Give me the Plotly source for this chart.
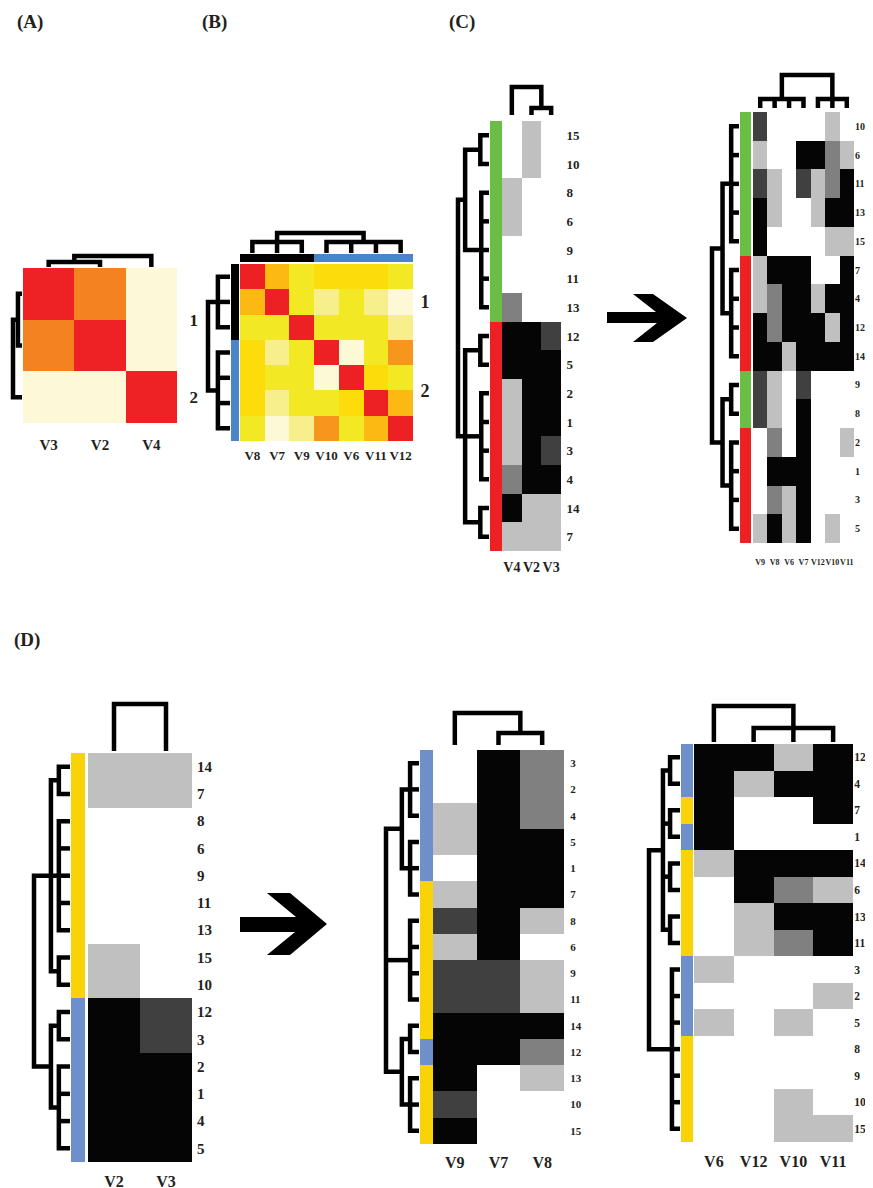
import plotly.graph_objects as go

# ======================= DATA =======================
# Binary-profile levels per sample (0 = white ... 4 = black), samples 1..15
SAMPLES = [str(i) for i in range(1, 16)]
V2 = [4, 4, 4, 4, 4, 0, 1, 0, 0, 1, 0, 4, 0, 1, 1]
V3 = [4, 4, 3, 4, 4, 0, 1, 0, 0, 0, 0, 3, 0, 1, 0]
V4 = [1, 1, 1, 2, 4, 1, 1, 1, 0, 0, 0, 4, 2, 4, 0]
V6 = [4, 0, 1, 4, 1, 0, 4, 0, 0, 0, 0, 4, 0, 1, 0]
V7 = [4, 4, 4, 4, 4, 4, 4, 4, 3, 0, 3, 4, 0, 4, 0]
V8 = [4, 2, 2, 2, 4, 0, 4, 1, 1, 0, 1, 2, 1, 4, 0]
V9 = [0, 0, 0, 1, 1, 1, 1, 3, 3, 3, 3, 4, 4, 4, 4]
V10 = [0, 0, 0, 4, 1, 2, 0, 0, 0, 1, 2, 1, 4, 4, 1]
V11 = [0, 1, 0, 4, 0, 1, 4, 0, 0, 0, 4, 4, 4, 4, 1]
V12 = [0, 0, 0, 1, 0, 4, 0, 0, 0, 0, 1, 4, 1, 4, 0]
PROFILE = {"V2": V2, "V3": V3, "V4": V4, "V6": V6, "V7": V7, "V8": V8,
           "V9": V9, "V10": V10, "V11": V11, "V12": V12}

# sample clusters
C_CLUSTER1 = ["6", "8", "9", "10", "11", "13", "15"]          # green, others red
D_CLUSTER1 = ["6", "7", "8", "9", "10", "11", "13", "14", "15"]  # yellow, others blue

# (A) similarity of V3, V2, V4
A_VARS = ["V3", "V2", "V4"]
A_SIM = [[1.00, 0.85, 0.20],
         [0.85, 1.00, 0.20],
         [0.20, 0.20, 1.00]]
A_GROUP = [0, 0, 1]
A_TREE = [1.0, [0.45, "V3", "V2"], "V4"]

# (B) similarity of V8..V12
B_VARS = ["V8", "V7", "V9", "V10", "V6", "V11", "V12"]
B_SIM = [[1.00, 0.75, 0.55, 0.65, 0.65, 0.65, 0.55],
         [0.75, 1.00, 0.55, 0.40, 0.55, 0.40, 0.20],
         [0.55, 0.55, 1.00, 0.55, 0.55, 0.55, 0.40],
         [0.65, 0.40, 0.55, 1.00, 0.20, 0.55, 0.85],
         [0.65, 0.55, 0.55, 0.20, 1.00, 0.65, 0.55],
         [0.65, 0.40, 0.55, 0.55, 0.65, 1.00, 0.75],
         [0.55, 0.20, 0.40, 0.85, 0.55, 0.75, 1.00]]
B_GROUP = [0, 0, 0, 1, 1, 1, 1]
B_TREE = [1.0, [0.55, "V8", "V7", "V9"], [0.55, "V10", "V6", "V11", "V12"]]
CLUSTER_LABELS = ["1", "2"]

# (C) left
CL_COLS = ["V4", "V2", "V3"]
CL_ROWS = ["15", "10", "8", "6", "9", "11", "13", "12", "5", "2", "1", "3", "4", "14", "7"]
CL_COL_TREE = [1.0, "V4", [0.25, "V2", "V3"]]
CL_ROW_TREE = [1.0, [0.77, [0.28, "15", "10"], [0.25, "8", "6", "9", "11", "13"]],
               [0.77, [0.28, "12", "5"], [0.25, "2", "1", "3", "4"], [0.28, "14", "7"]]]
# (C) right
CR_COLS = ["V9", "V8", "V6", "V7", "V12", "V10", "V11"]
CR_ROWS = ["10", "6", "11", "13", "15", "7", "4", "12", "14", "9", "8", "2", "1", "3", "5"]
CR_COL_TREE = [1.0, [0.27, "V9", "V8", "V6", "V7"], [0.27, "V12", "V10", "V11"]]
CR_ROW_TREE = [1.0, [0.61, [0.29, "10", "6", "11", "13", "15"], [0.29, "7", "4", "12", "14"]],
               [0.61, [0.29, "9", "8"], [0.29, "2", "1", "3", "5"]]]
# (D) left
DL_COLS = ["V2", "V3"]
DL_ROWS = ["14", "7", "8", "6", "9", "11", "13", "15", "10", "12", "3", "2", "1", "4", "5"]
DL_COL_TREE = [1.0, "V2", "V3"]
DL_ROW_TREE = [1.0, [0.53, [0.31, "14", "7"], [0.31, "8", "6", "9", "11", "13"], [0.31, "15", "10"]],
               [0.53, [0.31, "12", "3"], [0.31, "2", "1", "4", "5"]]]
# (D) middle
DM_COLS = ["V9", "V7", "V8"]
DM_ROWS = ["3", "2", "4", "5", "1", "7", "8", "6", "9", "11", "14", "12", "13", "10", "15"]
DM_COL_TREE = [1.0, "V9", [0.375, "V7", "V8"]]
DM_ROW_TREE = [1.0, [0.52, [0.27, "3", "2", "4"], [0.27, "5", "1", "7"]],
               [0.27, "8", "6", "9", "11"],
               [0.52, [0.27, "14", "12"], [0.27, "13", "10", "15"]]]
# (D) right
DR_COLS = ["V6", "V12", "V10", "V11"]
DR_ROWS = ["12", "4", "7", "1", "14", "6", "13", "11", "3", "2", "5", "8", "9", "10", "15"]
DR_COL_TREE = [1.0, "V6", [0.39, "V12", "V10", "V11"]]
DR_ROW_TREE = [1.0, [0.55, [0.32, "12", "4"], [0.32, "7", "1"], [0.32, "14", "6"], [0.32, "13", "11"]],
               [0.26, "3", "2", "5", "8", "9", "10", "15"]]

# ======================= STYLE / LAYOUT =======================
OFF = 8
FW, FH = 873, 1188
SERIF = "Liberation Serif"
TXT = "#231F20"
LW = 4.5
GRAY_CS = [[0, "#FFFFFF"], [0.25, "#C0C0C0"], [0.5, "#808080"], [0.75, "#404040"], [1, "#050505"]]
A_CS = [[0, "#FDF9D8"], [0.8125, "#F58220"], [1, "#EE2224"]]
B_CS = [[0, "#FDF9D6"], [0.25, "#F6EF8C"], [0.4375, "#F2E823"], [0.5625, "#FCDC0A"],
        [0.6875, "#FDB913"], [0.8125, "#F7961C"], [1, "#ED2024"]]
GREEN, RED = "#6BBE45", "#ED2024"
YELLOW, BLUE_D = "#F9D308", "#6F8FCA"
BLACK_B, BLUE_B = "#000000", "#4A86C5"


def fx(px):
    return (px - OFF) / FW


def fy(py):
    return 1 - (py - OFF) / FH


fig = go.Figure()
LAY = dict(width=FW, height=FH, margin=dict(l=0, r=0, t=0, b=0), autosize=False,
           paper_bgcolor="white", plot_bgcolor="rgba(0,0,0,0)", showlegend=False)
CNT = {"x": 0, "y": 0}


def axis(kind, lo, hi, **kw):
    CNT[kind] += 1
    n = CNT[kind]
    suf = "" if n == 1 else str(n)
    dom = [fx(lo), fx(hi)] if kind == "x" else [fy(hi), fy(lo)]
    d = dict(domain=dom, showgrid=False, zeroline=False, showline=False,
             fixedrange=True, visible=False)
    d.update(kw)
    LAY[kind + "axis" + suf] = d
    return kind + suf, kind + "axis" + suf


def tree_lines(tree, pos):
    a, b = [], []   # a: leaf-position coordinate, b: height coordinate

    def rec(node):
        if isinstance(node, str):
            return pos[node], 0.0
        h = node[0]
        kids = sorted((rec(c) for c in node[1:]), key=lambda k: k[0])
        (p0, h0), (p1, h1) = kids[0], kids[-1]
        a.extend([p0, p0, p1, p1, None])
        b.extend([h0, h, h, h1, None])
        for p, ch in kids[1:-1]:
            a.extend([p, p, None])
            b.extend([h, ch, None])
        return sum(k[0] for k in kids) / len(kids), h

    rec(tree)
    return a, b


def cluster_ticks(groups, labels):
    vals = []
    for g in sorted(set(groups)):
        idx = [i for i, v in enumerate(groups) if v == g]
        vals.append(sum(idx) / len(idx))
    return vals, labels[:len(vals)]


def tfont(size):
    return dict(family=SERIF, size=size, color=TXT, weight="bold")


def panel(P):
    cols, rows, z = P["cols"], P["rows"], P["z"]
    x0, y0, x1, y1 = P["box"]
    nc, nr = len(cols), len(rows)
    xr, xn = axis("x", x0, x1, visible=True, range=[-0.5, nc - 0.5], tickmode="array",
                  tickvals=list(range(nc)), ticktext=cols, ticks="outside", ticklen=P["col_pad"],
                  tickcolor="rgba(0,0,0,0)", tickangle=0, tickfont=tfont(P["col_fs"]))
    yr, yn = axis("y", y0, y1, visible=True, range=[nr - 0.5, -0.5], side="right", tickmode="array",
                  tickvals=P["row_vals"], ticktext=P["row_text"], ticks="outside",
                  ticklen=max(P["row_pad"], 0), ticklabelstandoff=min(P["row_pad"], 0),
                  tickcolor="rgba(0,0,0,0)", tickfont=tfont(P["row_fs"]))
    LAY[xn]["anchor"] = yr
    LAY[yn]["anchor"] = xr
    fig.add_trace(go.Heatmap(z=z, x=list(range(nc)), y=list(range(nr)), colorscale=P["cs"],
                             zmin=P["zmin"], zmax=P["zmax"], showscale=False,
                             xaxis=xr, yaxis=yr, hoverinfo="skip"))
    # top dendrogram
    leaf, root = P["top_px"]
    L = leaf - root
    hr = P["col_tree"][0]
    tyr, tyn = axis("y", root - 4, leaf + 1, range=[-hr / L, hr * (L + 4) / L])
    a, b = tree_lines(P["col_tree"], {c: i for i, c in enumerate(cols)})
    fig.add_trace(go.Scatter(x=a, y=b, mode="lines", line=dict(color="black", width=LW),
                             xaxis=xr, yaxis=tyr, hoverinfo="skip"))
    # left dendrogram
    leaf, root = P["left_px"]
    L = leaf - root
    hr = P["row_tree"][0]
    lxr, lxn = axis("x", root - 4, leaf + 1, range=[hr * (L + 4) / L, -hr / L])
    a, b = tree_lines(P["row_tree"], {r: i for i, r in enumerate(rows)})
    fig.add_trace(go.Scatter(x=b, y=a, mode="lines", line=dict(color="black", width=LW),
                             xaxis=lxr, yaxis=yr, hoverinfo="skip"))
    # left group bar
    if "left_bar" in P:
        bx0, bx1 = P["left_bar"]
        bxr, _ = axis("x", bx0, bx1, range=[-0.5, 0.5])
        fig.add_trace(go.Heatmap(z=[[g] for g in P["row_groups"]], x=[0], y=list(range(nr)),
                                 colorscale=[[0, P["gcols"][0]], [1, P["gcols"][1]]],
                                 zmin=0, zmax=1, showscale=False, xaxis=bxr, yaxis=yr,
                                 hoverinfo="skip"))
    if "top_bar" in P:
        by0, by1 = P["top_bar"]
        byr, _ = axis("y", by0, by1, range=[-0.5, 0.5])
        fig.add_trace(go.Heatmap(z=[P["col_groups"]], x=list(range(nc)), y=[0],
                                 colorscale=[[0, P["gcols"][0]], [1, P["gcols"][1]]],
                                 zmin=0, zmax=1, showscale=False, xaxis=xr, yaxis=byr,
                                 hoverinfo="skip"))


def profile_matrix(rows, cols):
    return [[PROFILE[c][SAMPLES.index(r)] for c in cols] for r in rows]


def groups_of(rows, cluster1):
    return [0 if r in cluster1 else 1 for r in rows]


# (A)
av, at = cluster_ticks(A_GROUP, CLUSTER_LABELS)
panel(dict(cols=A_VARS, rows=A_VARS, z=A_SIM, cs=A_CS, zmin=0.2, zmax=1.0,
           box=(23, 268, 177, 423), col_fs=15, col_pad=8, row_vals=av, row_text=at,
           row_fs=17, row_pad=8, col_tree=A_TREE, row_tree=A_TREE,
           top_px=(267, 256), left_px=(22, 13)))
# (B)
bv, bt = cluster_ticks(B_GROUP, CLUSTER_LABELS)
panel(dict(cols=B_VARS, rows=B_VARS, z=B_SIM, cs=B_CS, zmin=0.2, zmax=1.0,
           box=(240, 264, 413, 441), col_fs=13, col_pad=2, row_vals=bv, row_text=bt,
           row_fs=18, row_pad=3, col_tree=B_TREE, row_tree=B_TREE,
           top_px=(253, 233), left_px=(230, 208),
           left_bar=(231, 239), top_bar=(254, 262),
           row_groups=B_GROUP, col_groups=B_GROUP, gcols=(BLACK_B, BLUE_B)))
# (C) left
panel(dict(cols=CL_COLS, rows=CL_ROWS, z=profile_matrix(CL_ROWS, CL_COLS), cs=GRAY_CS,
           zmin=0, zmax=4, box=(502, 121, 561, 551), col_fs=14, col_pad=3,
           row_vals=list(range(len(CL_ROWS))), row_text=CL_ROWS, row_fs=13, row_pad=2,
           col_tree=CL_COL_TREE, row_tree=CL_ROW_TREE, top_px=(115, 87), left_px=(489, 458),
           left_bar=(490, 502), row_groups=groups_of(CL_ROWS, C_CLUSTER1), gcols=(GREEN, RED)))
# (C) right
panel(dict(cols=CR_COLS, rows=CR_ROWS, z=profile_matrix(CR_ROWS, CR_COLS), cs=GRAY_CS,
           zmin=0, zmax=4, box=(753, 112, 854, 543), col_fs=8, col_pad=11,
           row_vals=list(range(len(CR_ROWS))), row_text=CR_ROWS, row_fs=10, row_pad=-2,
           col_tree=CR_COL_TREE, row_tree=CR_ROW_TREE, top_px=(108, 75), left_px=(739, 712),
           left_bar=(740, 751), row_groups=groups_of(CR_ROWS, C_CLUSTER1), gcols=(GREEN, RED)))
# (D) left
panel(dict(cols=DL_COLS, rows=DL_ROWS, z=profile_matrix(DL_ROWS, DL_COLS), cs=GRAY_CS,
           zmin=0, zmax=4, box=(88, 753, 192, 1162), col_fs=16, col_pad=5,
           row_vals=list(range(len(DL_ROWS))), row_text=DL_ROWS, row_fs=15, row_pad=1,
           col_tree=DL_COL_TREE, row_tree=DL_ROW_TREE, top_px=(751, 704), left_px=(70, 34),
           left_bar=(71, 85), row_groups=groups_of(DL_ROWS, D_CLUSTER1), gcols=(YELLOW, BLUE_D)))
# (D) middle
panel(dict(cols=DM_COLS, rows=DM_ROWS, z=profile_matrix(DM_ROWS, DM_COLS), cs=GRAY_CS,
           zmin=0, zmax=4, box=(433, 750, 564, 1144), col_fs=16, col_pad=4,
           row_vals=list(range(len(DM_ROWS))), row_text=DM_ROWS, row_fs=11, row_pad=3,
           col_tree=DM_COL_TREE, row_tree=DM_ROW_TREE, top_px=(745, 713), left_px=(419, 386),
           left_bar=(420, 433), row_groups=groups_of(DM_ROWS, D_CLUSTER1), gcols=(YELLOW, BLUE_D)))
# (D) right
panel(dict(cols=DR_COLS, rows=DR_ROWS, z=profile_matrix(DR_ROWS, DR_COLS), cs=GRAY_CS,
           zmin=0, zmax=4, box=(694, 744, 853, 1142), col_fs=16, col_pad=5,
           row_vals=list(range(len(DR_ROWS))), row_text=DR_ROWS, row_fs=11.5, row_pad=-2,
           col_tree=DR_COL_TREE, row_tree=DR_ROW_TREE, top_px=(742, 706), left_px=(680, 649),
           left_bar=(681, 693), row_groups=groups_of(DR_ROWS, D_CLUSTER1), gcols=(YELLOW, BLUE_D)))

# panel letters
ann = []
for txt, px, py in [("(A)", 15, 22), ("(B)", 200, 22), ("(C)", 447, 22), ("(D)", 12, 640)]:
    ann.append(dict(text=txt, x=fx(px), y=fy(py), xref="paper", yref="paper",
                    xanchor="left", yanchor="middle", showarrow=False, font=tfont(19)))
LAY["annotations"] = ann


# arrows (decorative shapes)
def arrow_path(pts):
    s = "M " + " L ".join(f"{fx(x):.5f},{fy(y):.5f}" for x, y in pts) + " Z"
    return dict(type="path", path=s, xref="paper", yref="paper",
                fillcolor="black", line=dict(width=0))


ARROW_C = [(607, 312), (656, 312), (633, 294), (653, 294), (687, 318),
           (653, 342), (633, 342), (657, 323), (607, 323)]
ARROW_D = [(240, 917), (296, 917), (267, 893), (290, 893), (327, 924),
           (290, 955), (267, 955), (295, 932), (240, 932)]
LAY["shapes"] = [arrow_path(ARROW_C), arrow_path(ARROW_D)]

fig.update_layout(**LAY)
fig.write_html("out.html")
